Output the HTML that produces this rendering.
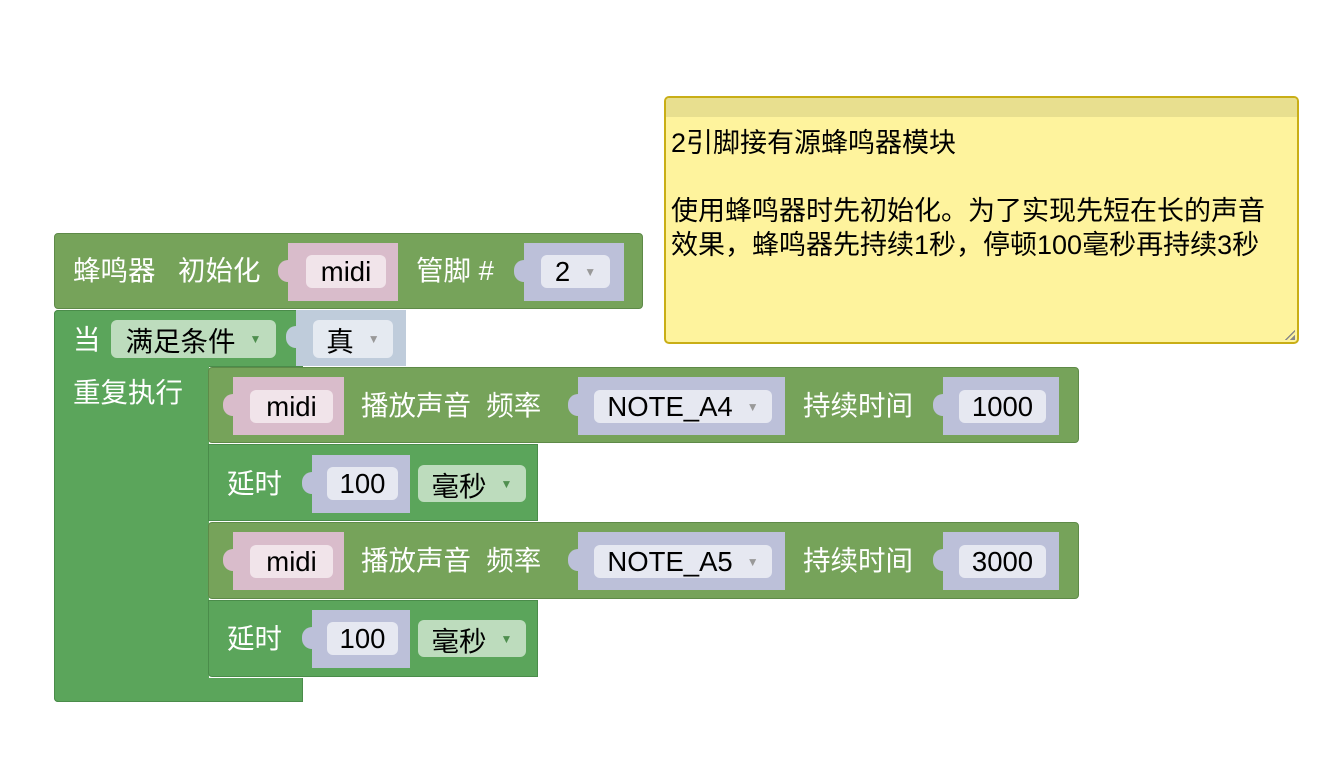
<!DOCTYPE html>
<html><head><meta charset="utf-8"><style>
body{margin:0;width:1328px;height:782px;background:#fff;position:relative;overflow:hidden;font-family:"Liberation Sans","Noto Sans CJK SC",sans-serif;}
div{position:absolute;box-sizing:border-box;}
.t{color:#fff;font-size:27.5px;line-height:30px;white-space:nowrap;}
.k{color:#000;font-size:27px;line-height:30px;white-space:nowrap;}
.g1{background:#76a35a;border:1px solid #5e8a48;}
.g2{background:#5ba55b;border:1px solid #4a8c4a;}
.pk{background:#d9bccb;}
.pv{background:#bcc0d9;}
.pb{background:#bfccdb;}
.fi{border-radius:6px;display:flex;align-items:center;justify-content:center;font-size:27.5px;color:#000;white-space:nowrap;}
.tab{width:12px;height:22px;border-radius:10px 0 0 10px;}
.ar{font-size:12px;color:#999;margin-left:14px;}
.ag{font-size:12px;color:#4f8f4f;margin-left:14px;}
</style></head><body>

<!-- init block -->
<div class="g1" style="left:54px;top:233px;width:589px;height:76px;border-radius:4px;"></div>
<div class="t" style="left:73px;top:256px;">蜂鸣器</div>
<div class="t" style="left:178px;top:256px;">初始化</div>
<div class="pk" style="left:288px;top:243px;width:110px;height:58px;"></div>
<div class="pk tab" style="left:278px;top:260px;"></div>
<div class="fi" style="left:306px;top:255px;width:80px;height:33px;background:#f1e4ea;">midi</div>
<div class="t" style="left:416px;top:256px;">管脚 #</div>
<div class="pv" style="left:524px;top:243px;width:100px;height:58px;"></div>
<div class="pv tab" style="left:514px;top:260px;"></div>
<div class="fi" style="left:541px;top:255px;width:69px;height:33px;background:#e6e8f1;">2<span class="ar">▼</span></div>

<!-- loop block -->
<div class="g2" style="left:54px;top:310px;width:249px;height:57px;border-radius:4px 0 0 0;"></div>
<div class="g2" style="left:54px;top:310px;width:155px;height:392px;border-radius:4px 0 0 4px;border-right:none;"></div>
<div class="g2" style="left:54px;top:678px;width:249px;height:24px;border-radius:0 0 0 4px;border-top:none;"></div>
<div class="t" style="left:73px;top:325px;">当</div>
<div class="fi" style="left:111px;top:320px;width:165px;height:38px;background:#bddcbd;">满足条件<span class="ag">▼</span></div>
<div class="pb" style="left:296px;top:310px;width:110px;height:56px;"></div>
<div class="pb tab" style="left:286px;top:326px;"></div>
<div class="fi" style="left:313px;top:320px;width:80px;height:38px;background:#e5eaf1;">真<span class="ar">▼</span></div>
<div class="t" style="left:73px;top:378px;">重复执行</div>

<!-- statement 1 -->
<div class="g1" style="left:208px;top:367px;width:871px;height:76px;border-radius:4px;"></div>
<div class="pk" style="left:233px;top:377px;width:111px;height:58px;"></div>
<div class="pk tab" style="left:223px;top:394px;"></div>
<div class="fi" style="left:250px;top:390px;width:83px;height:33px;background:#f1e4ea;">midi</div>
<div class="t" style="left:361px;top:391px;">播放声音&nbsp; 频率</div>
<div class="pv" style="left:578px;top:377px;width:207px;height:58px;"></div>
<div class="pv tab" style="left:568px;top:394px;"></div>
<div class="fi" style="left:594px;top:390px;width:178px;height:33px;background:#e6e8f1;">NOTE_A4<span class="ar">▼</span></div>
<div class="t" style="left:803px;top:391px;">持续时间</div>
<div class="pv" style="left:943px;top:377px;width:116px;height:58px;"></div>
<div class="pv tab" style="left:933px;top:394px;"></div>
<div class="fi" style="left:959px;top:390px;width:87px;height:33px;background:#e6e8f1;">1000</div>

<!-- delay 1 -->
<div class="g2" style="left:208px;top:444px;width:330px;height:77px;"></div>
<div class="t" style="left:227px;top:469px;">延时</div>
<div class="pv" style="left:312px;top:455px;width:98px;height:58px;"></div>
<div class="pv tab" style="left:302px;top:472px;"></div>
<div class="fi" style="left:327px;top:467px;width:71px;height:33px;background:#e6e8f1;">100</div>
<div class="fi" style="left:418px;top:465px;width:108px;height:37px;background:#bddcbd;">毫秒<span class="ag">▼</span></div>

<!-- statement 2 -->
<div class="g1" style="left:208px;top:522px;width:871px;height:77px;border-radius:4px;"></div>
<div class="pk" style="left:233px;top:532px;width:111px;height:58px;"></div>
<div class="pk tab" style="left:223px;top:549px;"></div>
<div class="fi" style="left:250px;top:545px;width:83px;height:33px;background:#f1e4ea;">midi</div>
<div class="t" style="left:361px;top:546px;">播放声音&nbsp; 频率</div>
<div class="pv" style="left:578px;top:532px;width:207px;height:58px;"></div>
<div class="pv tab" style="left:568px;top:549px;"></div>
<div class="fi" style="left:594px;top:545px;width:178px;height:33px;background:#e6e8f1;">NOTE_A5<span class="ar">▼</span></div>
<div class="t" style="left:803px;top:546px;">持续时间</div>
<div class="pv" style="left:943px;top:532px;width:116px;height:58px;"></div>
<div class="pv tab" style="left:933px;top:549px;"></div>
<div class="fi" style="left:959px;top:545px;width:87px;height:33px;background:#e6e8f1;">3000</div>

<!-- delay 2 -->
<div class="g2" style="left:208px;top:600px;width:330px;height:77px;border-radius:0 0 0 4px;"></div>
<div class="t" style="left:227px;top:624px;">延时</div>
<div class="pv" style="left:312px;top:610px;width:98px;height:58px;"></div>
<div class="pv tab" style="left:302px;top:627px;"></div>
<div class="fi" style="left:327px;top:622px;width:71px;height:33px;background:#e6e8f1;">100</div>
<div class="fi" style="left:418px;top:620px;width:108px;height:37px;background:#bddcbd;">毫秒<span class="ag">▼</span></div>

<!-- comment -->
<div style="left:664px;top:96px;width:635px;height:248px;background:#fef39d;border:2px solid #c9ae16;border-radius:5px;overflow:hidden;">
  <div style="left:0;top:0;width:100%;height:19px;background:#e8df8f;"></div>
  <div class="k" style="left:5px;top:28px;line-height:34px;white-space:normal;width:620px;">2引脚接有源蜂鸣器模块<br><br>使用蜂鸣器时先初始化。为了实现先短在长的声音<br>效果，蜂鸣器先持续1秒，停顿100毫秒再持续3秒</div>
  <div style="right:2px;bottom:2px;width:10px;height:10px;background:linear-gradient(135deg,transparent 50%,#888 50%,#888 60%,transparent 60%,transparent 75%,#888 75%);"></div>
</div>
</body></html>
